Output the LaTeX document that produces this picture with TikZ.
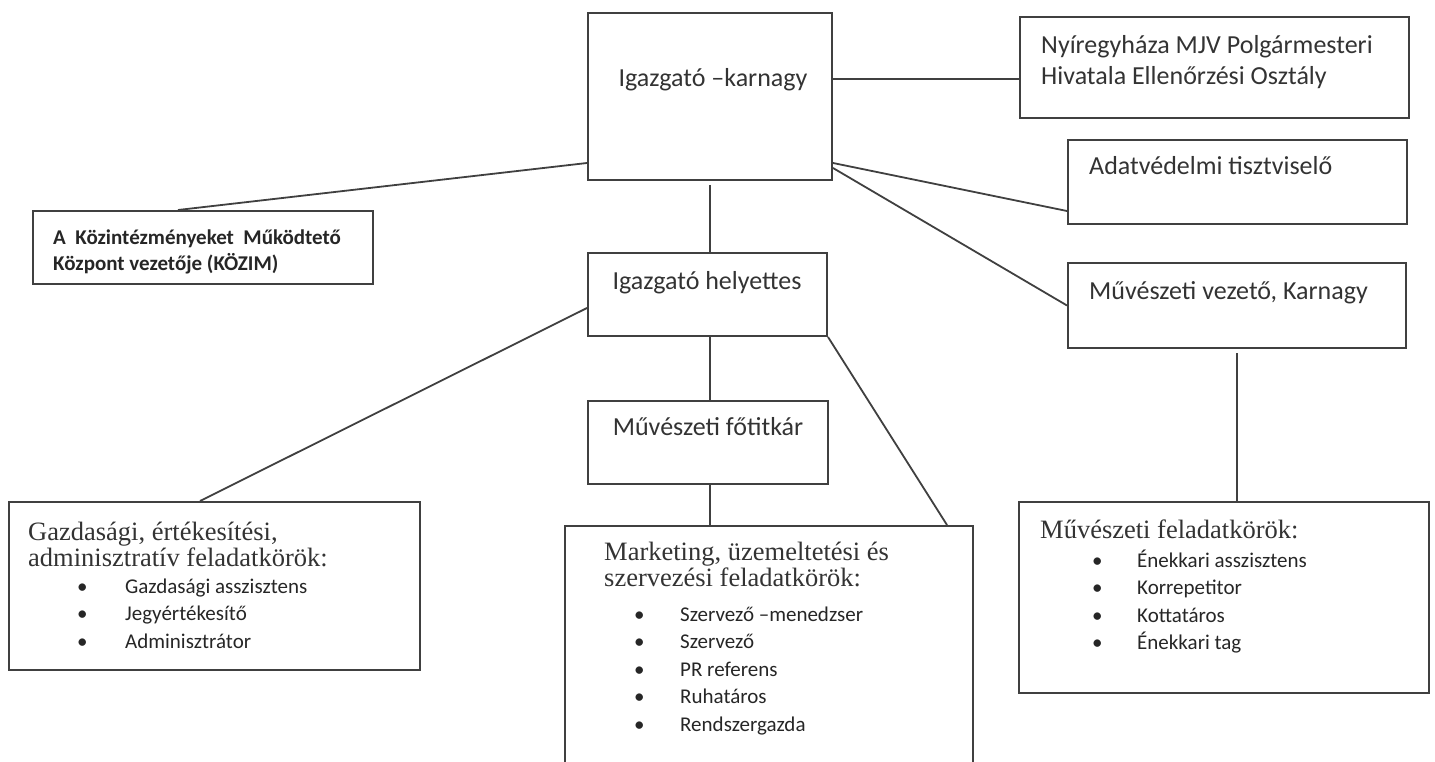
\documentclass[tikz,border=0pt]{standalone}
\usepackage{fontspec}
\setmainfont{Carlito}
\newfontfamily\titlefont{Liberation Serif}

\tikzset{
  box/.style={draw=black!75, line width=2pt, inner sep=0pt, anchor=north west},
  conn/.style={draw=black!75, line width=1.8pt},
  lbl/.style={text=black!80, inner sep=0pt, font=\fontsize{26}{31}\selectfont},
  small/.style={text=black!85, inner sep=0pt, font=\fontsize{21}{26}\selectfont\bfseries},
  ttl/.style={text=black!80, inner sep=0pt, font=\titlefont\fontsize{26.5}{26.5}\selectfont},
  item/.style={text=black!85, inner sep=0pt, font=\fontsize{21}{27.5}\selectfont}
}

\begin{document}
\begin{tikzpicture}[x=1pt,y=-1pt]

	\useasboundingbox (0,0) rectangle (1435,762);

	% boxes
	\node[box, minimum width=244pt, minimum height=167pt] (igk) at (587,12) {};
	\node[box, minimum width=389pt, minimum height=101pt] (nyh) at (1019,16) {};
	\node[box, minimum width=339pt, minimum height=84pt] (adat) at (1067,139) {};
	\node[box, minimum width=338pt, minimum height=85pt] (vez) at (1067,262) {};
	\node[box, minimum width=340pt, minimum height=73pt] (kozim) at (32,210) {};
	\node[box, minimum width=239pt, minimum height=83pt] (hel) at (587,252) {};
	\node[box, minimum width=240pt, minimum height=83pt] (fot) at (587,400) {};
	\node[box, minimum width=411pt, minimum height=168pt] (gazd) at (8,501) {};
	\node[box, minimum width=408pt, minimum height=250pt] (mkt) at (564,525) {};
	\node[box, minimum width=410pt, minimum height=191pt] (felad) at (1018,501) {};

	% texts
	\node[lbl, anchor=base] (igk-t) at (713,87) {Igazgató –karnagy};
	\node[lbl, anchor=base west] (nyh-t) at (1041,54) {\begin{tabular}[t]{@{}l@{}}Nyíregyháza MJV Polgármesteri\\Hivatala Ellenőrzési Osztály\end{tabular}};
	\node[lbl, anchor=base west] (adat-t) at (1089,175) {Adatvédelmi tisztviselő};
	\node[lbl, anchor=base west] (vez-t) at (1089,299) {Művészeti vezető, Karnagy};
	\node[small, anchor=base west] (kozim-t) at (53,244) {\begin{tabular}[t]{@{}l@{}}A\ \ Közintézményeket\ \ Működtető\\Központ vezetője (KÖZIM)\end{tabular}};
	\node[lbl, anchor=base] (hel-t) at (707,289) {Igazgató helyettes};
	\node[lbl, anchor=base] (fot-t) at (708,435) {Művészeti főtitkár};

	\node[ttl, anchor=base west] (gazd-t) at (28,540) {\begin{tabular}[t]{@{}l@{}}Gazdasági, értékesítési,\\adminisztratív feladatkörök:\end{tabular}};
	\node[item, anchor=base west] (gazd-l) at (77,593) {\begin{tabular}[t]{@{}p{48pt}@{}l@{}}•&Gazdasági asszisztens\\•&Jegyértékesítő\\•&Adminisztrátor\end{tabular}};

	\node[ttl, anchor=base west] (mkt-t) at (604,560) {\begin{tabular}[t]{@{}l@{}}Marketing, üzemeltetési és\\szervezési feladatkörök:\end{tabular}};
	\node[item, anchor=base west] (mkt-l) at (634,621) {\begin{tabular}[t]{@{}p{46pt}@{}l@{}}•&Szervező –menedzser\\•&Szervező\\•&PR referens\\•&Ruhatáros\\•&Rendszergazda\end{tabular}};

	\node[ttl, anchor=base west] (felad-t) at (1040,538) {Művészeti feladatkörök:};
	\node[item, anchor=base west] (felad-l) at (1092,567) {\begin{tabular}[t]{@{}p{45pt}@{}l@{}}•&Énekkari asszisztens\\•&Korrepetitor\\•&Kottatáros\\•&Énekkari tag\end{tabular}};

	% connectors
	\draw[conn] (igk.east |- 0,79) -- (nyh.west |- 0,79);
	\draw[conn] (igk.west |- 0,163) -- (kozim.north -| 178,0);
	\draw[conn] (igk.east |- 0,163) -- (adat.west |- 0,211);
	\draw[conn] (igk.east |- 0,168) -- (vez.west);
	\draw[conn] ([yshift=-4pt]igk.south) -- (hel.north -| igk.south);
	\draw[conn] (hel.west |- 0,308) -- (gazd.north -| 200,0);
	\draw[conn] (hel.south east) -- (mkt.north -| 947,0);
	\draw[conn] (hel.south -| igk.south) -- (fot.north -| igk.south);
	\draw[conn] (fot.south -| igk.south) -- (mkt.north -| igk.south);
	\draw[conn] ([yshift=-4pt]vez.south -| 1237,0) -- (felad.north -| 1237,0);

\end{tikzpicture}
\end{document}
